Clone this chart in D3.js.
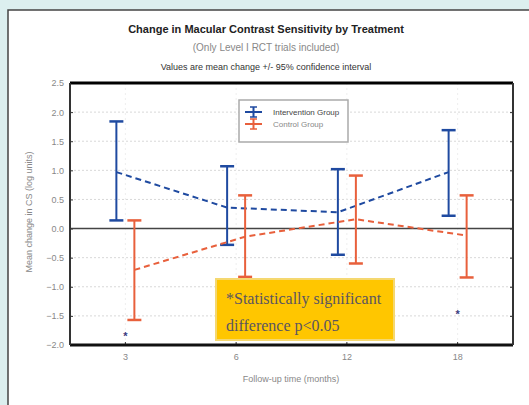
<!DOCTYPE html>
<html><head><meta charset="utf-8">
<script src="https://cdn.jsdelivr.net/npm/d3@7"></script>
<style>
html,body{margin:0;padding:0;background:#dcefef;}
svg{display:block;}
</style></head>
<body><svg id="c" width="529" height="405"></svg>
<script>
const categories = ["3","6","12","18"];
const yTicks = [2.5,2.0,1.5,1.0,0.5,0.0,-0.5,-1.0,-1.5,-2.0];
const seriesNames = ["Intervention Group","Control Group"];
const blueMean = [0.97, 0.36, 0.28, 0.97];
const blueLow  = [0.14, -0.28, -0.45, 0.22];
const blueHigh = [1.84, 1.07, 1.02, 1.69];
const redMean  = [-0.71, -0.14, 0.16, -0.12];
const redLow   = [-1.57, -0.83, -0.60, -0.84];
const redHigh  = [0.14, 0.57, 0.91, 0.57];
const sigCats  = ["3","18"];
const sigVals  = [-1.83, -1.45];

const svg = d3.select("#c");
// background texture-ish
svg.append("rect").attr("width",529).attr("height",405).attr("fill","#dcefef");
svg.append("rect").attr("x",8).attr("y",10).attr("width",530).attr("height",400)
  .attr("fill","#fff").attr("stroke","#444").attr("stroke-width",1.5);

const m = {l:70, r:513, t:83, b:345};
const x = d3.scaleBand().domain(categories).range([m.l, m.r]).padding(0);
const y = d3.scaleLinear().domain([-2.0, 2.5]).range([m.b, m.t]);
const cx = c => x(c) + x.bandwidth()/2;

// titles
svg.append("text").attr("x",266).attr("y",33).attr("text-anchor","middle")
  .attr("font-family","Liberation Sans, Arial").attr("font-weight","bold").attr("font-size",11)
  .attr("fill","#222").text("Change in Macular Contrast Sensitivity by Treatment");
svg.append("text").attr("x",266).attr("y",51).attr("text-anchor","middle")
  .attr("font-family","Liberation Sans, Arial").attr("font-size",10)
  .attr("fill","#888").text("(Only Level I RCT trials included)");
svg.append("text").attr("x",266).attr("y",70).attr("text-anchor","middle")
  .attr("font-family","Liberation Sans, Arial").attr("font-size",9)
  .attr("fill","#333").text("Values are mean change +/- 95% confidence interval");

// grid
const g = svg.append("g");
g.selectAll("line.gy").data(yTicks).join("line")
  .attr("x1",m.l).attr("x2",m.r).attr("y1",d=>y(d)).attr("y2",d=>y(d))
  .attr("stroke","#d8d8d8").attr("stroke-dasharray","2,2").attr("stroke-width",1);
g.selectAll("line.gx").data(categories).join("line")
  .attr("x1",d=>cx(d)).attr("x2",d=>cx(d)).attr("y1",m.t).attr("y2",m.b)
  .attr("stroke","#eee").attr("stroke-dasharray","2,3").attr("stroke-width",1);

// zero line
svg.append("line").attr("x1",m.l).attr("x2",m.r).attr("y1",y(0)).attr("y2",y(0))
  .attr("stroke","#444").attr("stroke-width",1.5);

// axes
const yAxis = d3.axisLeft(y).tickValues(yTicks).tickFormat(d3.format(".1f")).tickSize(-3).tickPadding(6);
const ya = svg.append("g").attr("transform",`translate(${m.l},0)`).call(yAxis);
ya.select(".domain").remove();
ya.selectAll("line").attr("stroke","#333");
ya.selectAll("text").attr("font-family","Liberation Sans, Arial").attr("font-size",9).attr("fill","#888");
const yr = svg.append("g").attr("transform",`translate(${m.r},0)`).call(d3.axisRight(y).tickValues(yTicks).tickSize(-3).tickFormat(""));
yr.select(".domain").remove(); yr.selectAll("line").attr("stroke","#333");

const xAxis = d3.axisBottom(x).tickSize(-3).tickPadding(9);
const xa = svg.append("g").attr("transform",`translate(0,${m.b})`).call(xAxis);
xa.select(".domain").remove();
xa.selectAll("line").attr("stroke","#333");
xa.selectAll("text").attr("font-family","Liberation Sans, Arial").attr("font-size",9).attr("fill","#888");

// frame
svg.append("line").attr("x1",m.l).attr("x2",m.r).attr("y1",m.t).attr("y2",m.t).attr("stroke","#000").attr("stroke-width",3);
svg.append("line").attr("x1",m.l).attr("x2",m.r).attr("y1",m.b).attr("y2",m.b).attr("stroke","#111").attr("stroke-width",3);
svg.append("line").attr("x1",m.l).attr("x2",m.l).attr("y1",m.t).attr("y2",m.b).attr("stroke","#333").attr("stroke-width",2);
svg.append("line").attr("x1",m.r).attr("x2",m.r).attr("y1",m.t).attr("y2",m.b).attr("stroke","#333").attr("stroke-width",2);

// axis titles
svg.append("text").attr("transform","translate(32,212) rotate(-90)").attr("text-anchor","middle")
  .attr("font-family","Liberation Sans, Arial").attr("font-size",9).attr("fill","#888")
  .text("Mean change in CS (log units)");
svg.append("text").attr("x",291).attr("y",382).attr("text-anchor","middle")
  .attr("font-family","Liberation Sans, Arial").attr("font-size",9).attr("fill","#888")
  .text("Follow-up time (months)");

// series
const series = [
  {name:seriesNames[0], mean:blueMean, lo:blueLow, hi:blueHigh, color:"#1f4aa0", off:-9},
  {name:seriesNames[1], mean:redMean, lo:redLow, hi:redHigh, color:"#e8603c", off:9}
];
series.forEach(s=>{
  const pts = categories.map((c,i)=>({x:cx(c)+s.off, m:s.mean[i], lo:s.lo[i], hi:s.hi[i]}));
  svg.append("path").datum(pts).attr("fill","none").attr("stroke",s.color).attr("stroke-width",2)
    .attr("stroke-dasharray","6,4")
    .attr("d",d3.line().x(d=>d.x).y(d=>y(d.m)));
  const eg = svg.append("g");
  eg.selectAll("line.v").data(pts).join("line")
    .attr("x1",d=>d.x).attr("x2",d=>d.x).attr("y1",d=>y(d.lo)).attr("y2",d=>y(d.hi))
    .attr("stroke",s.color).attr("stroke-width",2);
  eg.selectAll("line.h1").data(pts).join("line")
    .attr("x1",d=>d.x-7).attr("x2",d=>d.x+7).attr("y1",d=>y(d.hi)).attr("y2",d=>y(d.hi))
    .attr("stroke",s.color).attr("stroke-width",2.5);
  eg.selectAll("line.h2").data(pts).join("line")
    .attr("x1",d=>d.x-7).attr("x2",d=>d.x+7).attr("y1",d=>y(d.lo)).attr("y2",d=>y(d.lo))
    .attr("stroke",s.color).attr("stroke-width",2.5);
});

// significance marks
svg.selectAll("text.sig").data(sigCats).join("text")
  .attr("x",d=>cx(d)).attr("y",(d,i)=>y(sigVals[i])+5).attr("text-anchor","middle")
  .attr("font-family","Liberation Sans, Arial").attr("font-size",11).attr("font-weight","bold")
  .attr("fill","#3a3a80").text("*");

// legend
const lg = svg.append("g");
lg.append("rect").attr("x",239).attr("y",100).attr("width",109).attr("height",42)
  .attr("fill","#fff").attr("stroke","#aaa").attr("stroke-width",1.5);
series.forEach((s,i)=>{
  const ly = 112 + i*12;
  lg.append("line").attr("x1",245).attr("x2",262).attr("y1",ly).attr("y2",ly).attr("stroke",s.color).attr("stroke-width",2);
  lg.append("line").attr("x1",253.5).attr("x2",253.5).attr("y1",ly-5).attr("y2",ly+5).attr("stroke",s.color).attr("stroke-width",2);
  lg.append("line").attr("x1",250).attr("x2",257).attr("y1",ly-5).attr("y2",ly-5).attr("stroke",s.color).attr("stroke-width",1.5);
  lg.append("line").attr("x1",250).attr("x2",257).attr("y1",ly+5).attr("y2",ly+5).attr("stroke",s.color).attr("stroke-width",1.5);
  lg.append("text").attr("x",273).attr("y",ly+3).attr("font-family","Liberation Sans, Arial").attr("font-size",8)
    .attr("fill",i==0?"#444":"#888").text(s.name);
});

// note box
svg.append("rect").attr("x",216).attr("y",279).attr("width",178).attr("height",61)
  .attr("fill","#ffc600").attr("stroke","#f5d870").attr("stroke-width",2);
svg.append("text").attr("x",226).attr("y",304).attr("font-family","Liberation Serif, Times New Roman").attr("font-size",16)
  .attr("fill","#5a5560").text("*Statistically significant");
svg.append("text").attr("x",226).attr("y",331).attr("font-family","Liberation Serif, Times New Roman").attr("font-size",16)
  .attr("fill","#5a5560").text("difference p<0.05");
</script></body></html>
